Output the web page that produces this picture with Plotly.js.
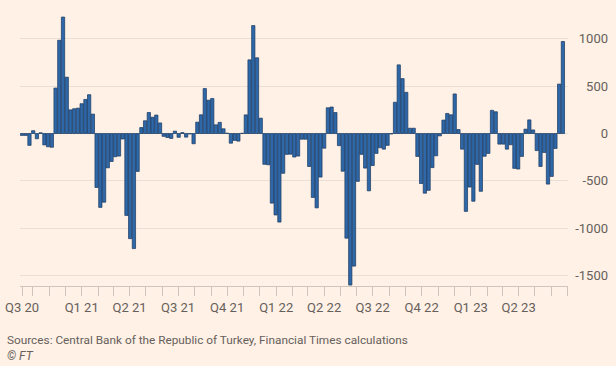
<!DOCTYPE html>
<html>
<head>
<meta charset="utf-8">
<script src="https://cdn.plot.ly/plotly-3.0.1.min.js"></script>
<style>
html,body{margin:0;padding:0;background:#fff1e5;}
#chart{width:616px;height:366px;}
</style>
</head>
<body>
<div id="chart"></div>
<script>
// Weekly flows (US$ mn), first week ending 2020-09-11
const firstWeek = '2020-09-11';
const weeklyValues = [
  -20, -20, -125, 30, -55, 8, -120, -140, -145, 480,
  985, 1230, 595, 250, 262, 268, 315, 360, 410, 205,
  -570, -780, -725, -362, -295, -245, -238, -58, -865, -1110,
  -1215, -400, 63, 135, 222, 172, 195, 112, -30, -42,
  -52, 25, -40, 10, -38, -5, -108, 120, 198, 475,
  352, 370, 92, 118, 50, 4, -102, -72, -80, 3,
  197, 778, 1140, 800, 162, -325, -330, -735, -860, -935,
  -420, -220, -218, -248, -238, -60, -60, -348, -675, -785,
  -460, -155, 272, 280, 222, -128, -398, -1105, -1600, -1400,
  -505, -220, -365, -605, -338, -210, -150, -165, -125, -5,
  330, 725, 580, 435, 56, 56, -242, -528, -630, -600,
  -360, -235, -25, 142, 212, 198, 418, 42, -165, -822,
  -565, -715, -326, -610, -240, -210, 245, 230, -112, -112,
  -165, -118, -368, -375, -242, 46, 144, 38, -180, -348,
  -200, -534, -453, -158, 522, 972
];
const quarterTickDates = ['2020-09-11','2021-01-01','2021-04-01','2021-07-01','2021-10-01','2022-01-01','2022-04-01','2022-07-01','2022-10-01','2023-01-01','2023-04-01'];
const quarterTickLabels = ['Q3 20','Q1 21','Q2 21','Q3 21','Q4 21','Q1 22','Q2 22','Q3 22','Q4 22','Q1 23','Q2 23'];
const yTickVals = [-1500, -1000, -500, 0, 500, 1000];
const yTickLabels = ['-1500', '-1000', '-500', '0', '500', '1000'];

// week-ending dates for each bar
const weekDates = weeklyValues.map((v, i) => {
  const d = new Date(firstWeek + 'T00:00:00Z');
  d.setUTCDate(d.getUTCDate() + 7 * i);
  return d.toISOString().slice(0, 10);
});

// monthly tick marks plus labelled quarter starts
const tickVals = [quarterTickDates[0]];
const tickText = [quarterTickLabels[0]];
for (let y = 2020; y <= 2023; y++) {
  for (let m = 1; m <= 12; m++) {
    const ds = y + '-' + String(m).padStart(2, '0') + '-01';
    if (ds < '2020-10-01' || ds > '2023-07-01') continue;
    tickVals.push(ds);
    const qi = quarterTickDates.indexOf(ds);
    tickText.push(qi >= 0 ? quarterTickLabels[qi] : '');
  }
}

const FONT = 'Roboto, "Open Sans", sans-serif';
const GREY = '#66605c';

const trace = {
  type: 'bar',
  x: weekDates,
  y: weeklyValues,
  marker: { color: '#2f68a8', line: { color: '#17375e', width: 0.7 } },
  hoverinfo: 'x+y'
};

const layout = {
  width: 616, height: 366,
  paper_bgcolor: '#fff1e5', plot_bgcolor: '#fff1e5',
  margin: { l: 20, r: 8, t: 9, b: 80 },
  bargap: 0.12,
  showlegend: false,
  font: { family: FONT, color: GREY, size: 13 },
  xaxis: {
    type: 'date',
    domain: [0, 548 / 588],
    range: ['2020-09-07 06:00', '2023-07-02 14:00'],
    tickmode: 'array', tickvals: tickVals, ticktext: tickText,
    ticks: 'outside', ticklen: 9, tickwidth: 1, tickcolor: '#cfc5bc',
    showline: true, linecolor: '#cfc5bc', linewidth: 1,
    showgrid: false, zeroline: false, tickangle: 0,
    tickfont: { family: FONT, size: 13, color: GREY }
  },
  yaxis: {
    anchor: 'free', position: 1, side: 'left',
    range: [-1610, 1315],
    tickmode: 'array', tickvals: yTickVals, ticktext: yTickLabels,
    showgrid: true, gridcolor: '#eadfd4', gridwidth: 1,
    zeroline: false, showline: false, ticks: '',
    tickfont: { family: FONT, size: 13, color: GREY }
  },
  annotations: [
    { xref: 'paper', yref: 'paper', x: -15 / 588, y: (286 - 340) / 277, xanchor: 'left', yanchor: 'middle',
      text: 'Sources: Central Bank of the Republic of Turkey, Financial Times calculations', showarrow: false,
      font: { family: FONT, size: 11.8, color: GREY } },
    { xref: 'paper', yref: 'paper', x: -15 / 588, y: (286 - 356) / 277, xanchor: 'left', yanchor: 'middle',
      text: '<i>© FT</i>', showarrow: false,
      font: { family: FONT, size: 12, color: GREY } }
  ]
};

Plotly.newPlot('chart', [trace], layout, { staticPlot: true, displayModeBar: false });
</script>
</body>
</html>
